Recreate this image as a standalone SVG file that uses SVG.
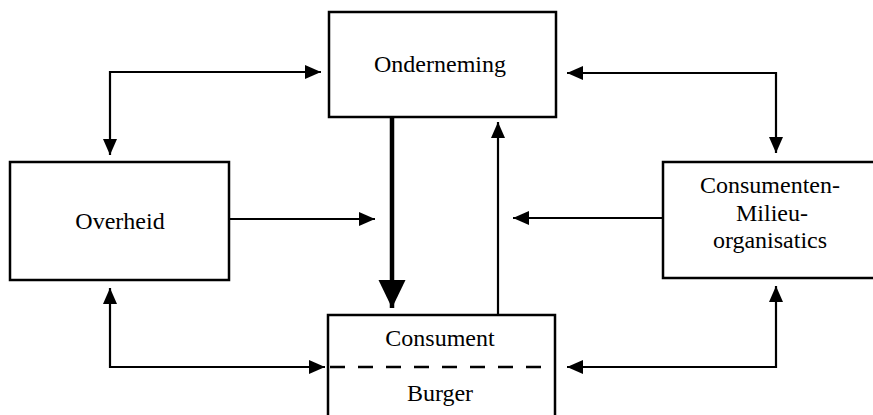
<svg xmlns="http://www.w3.org/2000/svg" width="873" height="415" viewBox="0 0 873 415">
  <style>
    .box { fill: #ffffff; stroke: #000000; stroke-width: 2.5; }
    .lbl { font-family: "Liberation Serif", "Times New Roman", serif; font-size: 24px; fill: #000000; text-anchor: middle; }
    .con { fill: none; stroke: #000000; stroke-width: 2.2; }
    .thick { fill: none; stroke: #000000; stroke-width: 4.5; }
    .dash { stroke: #000000; stroke-width: 2.5; stroke-dasharray: 15 13; }
  </style>
  <defs>
    <marker id="ah" markerUnits="userSpaceOnUse" markerWidth="17" markerHeight="15" refX="16" refY="7" orient="auto-start-reverse" viewBox="0 0 17 15">
      <path d="M0,0 L16,7 L0,14 Z" fill="#000000"/>
    </marker>
    <marker id="ahBig" markerUnits="userSpaceOnUse" markerWidth="29" markerHeight="28" refX="28" refY="13.5" orient="auto" viewBox="0 0 29 28">
      <path d="M0,0 L28,13.5 L0,27 Z" fill="#000000"/>
    </marker>
  </defs>
  <rect x="0" y="0" width="873" height="415" fill="#ffffff"/>

  <g id="onderneming">
    <rect class="box" x="329" y="12" width="227" height="105"/>
    <text class="lbl" x="440" y="72">Onderneming</text>
  </g>

  <g id="overheid">
    <rect class="box" x="10" y="162" width="219" height="118"/>
    <text class="lbl" x="120" y="229">Overheid</text>
  </g>

  <g id="consumenten-milieu">
    <rect class="box" x="663" y="162" width="220" height="116"/>
    <text class="lbl" x="770" y="193">Consumenten-</text>
    <text class="lbl" x="772" y="221">Milieu-</text>
    <text class="lbl" x="770" y="248">organisatics</text>
  </g>

  <g id="consument-burger">
    <rect class="box" x="328" y="315" width="227" height="110"/>
    <line class="dash" x1="330" y1="367" x2="553" y2="367"/>
    <text class="lbl" x="440" y="346">Consument</text>
    <text class="lbl" x="440" y="401">Burger</text>
  </g>

  <g id="connectors">
    <path class="con" d="M321,72 H110 V155" marker-start="url(#ah)" marker-end="url(#ah)"/>
    <path class="con" d="M229,219 H375" marker-end="url(#ah)"/>
    <path class="thick" d="M392,117 V308" marker-end="url(#ahBig)"/>
    <path class="con" d="M498,315 V122" marker-end="url(#ah)"/>
    <path class="con" d="M567,73 H776 V153" marker-start="url(#ah)" marker-end="url(#ah)"/>
    <path class="con" d="M663,218 H513" marker-end="url(#ah)"/>
    <path class="con" d="M110,288 V367 H325" marker-start="url(#ah)" marker-end="url(#ah)"/>
    <path class="con" d="M567,367 H776 V286" marker-start="url(#ah)" marker-end="url(#ah)"/>
  </g>
</svg>
